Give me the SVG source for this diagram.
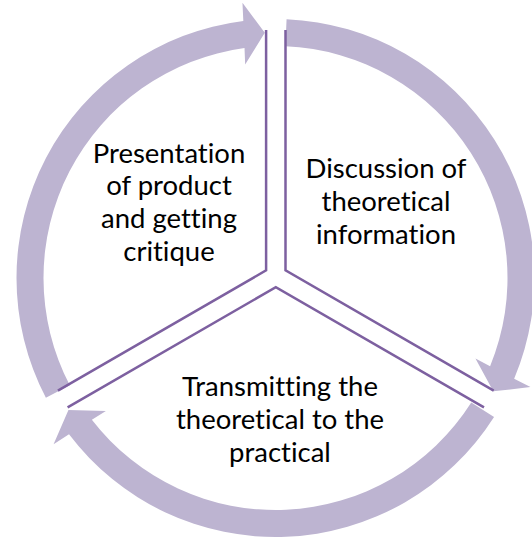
<svg xmlns="http://www.w3.org/2000/svg" xmlns:xlink="http://www.w3.org/1999/xlink" width="532" height="540" viewBox="0 0 532 540">
  <style>
    .arrow { fill: #BDB4D1; stroke: none; }
    .divider { fill: none; stroke: #7D60A0; stroke-width: 2.5; stroke-linejoin: miter; }
    .label { font-family: "Lato", "Open Sans", "Liberation Sans", sans-serif; font-size: 27.5px; fill: #000000; text-anchor: middle; font-variant-ligatures: none; font-feature-settings: "liga" 0, "clig" 0; }
  </style>
  <defs>
    <path id="arcArrow" d="M 286.57 19.24 A 259 259 0 0 1 514.16 378.63 L 530.46 387.05 L 493.26 391.36 L 475.46 358.41 L 490.11 366.13 A 232 232 0 0 0 285.42 46.21 Z"/>
  </defs>
  <rect x="0" y="0" width="532" height="540" fill="#FFFFFF"/>
  <g id="connectors">
    <use xlink:href="#arcArrow" href="#arcArrow" class="arrow"/>
    <use xlink:href="#arcArrow" href="#arcArrow" class="arrow" transform="rotate(120 275.5 278)"/>
    <use xlink:href="#arcArrow" href="#arcArrow" class="arrow" transform="rotate(240 275.5 278)"/>
  </g>
  <g id="node-presentation">
    <polyline class="divider" points="266.1,30 266.1,270.4 57.91,390.6"/>
    <text class="label" x="169" y="162.5">Presentation</text>
    <text class="label" x="169" y="195.3">of product</text>
    <text class="label" x="169" y="228.1">and getting</text>
    <text class="label" x="169" y="260.9">critique</text>
  </g>
  <g id="node-discussion">
    <polyline class="divider" points="285.5,30 285.5,270.4 493.69,390.6"/>
    <text class="label" x="386" y="178">Discussion of</text>
    <text class="label" x="386" y="210.8">theoretical</text>
    <text class="label" x="386" y="243.6">information</text>
  </g>
  <g id="node-transmitting">
    <polyline class="divider" points="67.61,407.4 275.8,287.2 483.99,407.4"/>
    <text class="label" x="280" y="396">Transmitting the</text>
    <text class="label" x="280" y="428.8">theoretical to the</text>
    <text class="label" x="280" y="461.6">practical</text>
  </g>
</svg>
